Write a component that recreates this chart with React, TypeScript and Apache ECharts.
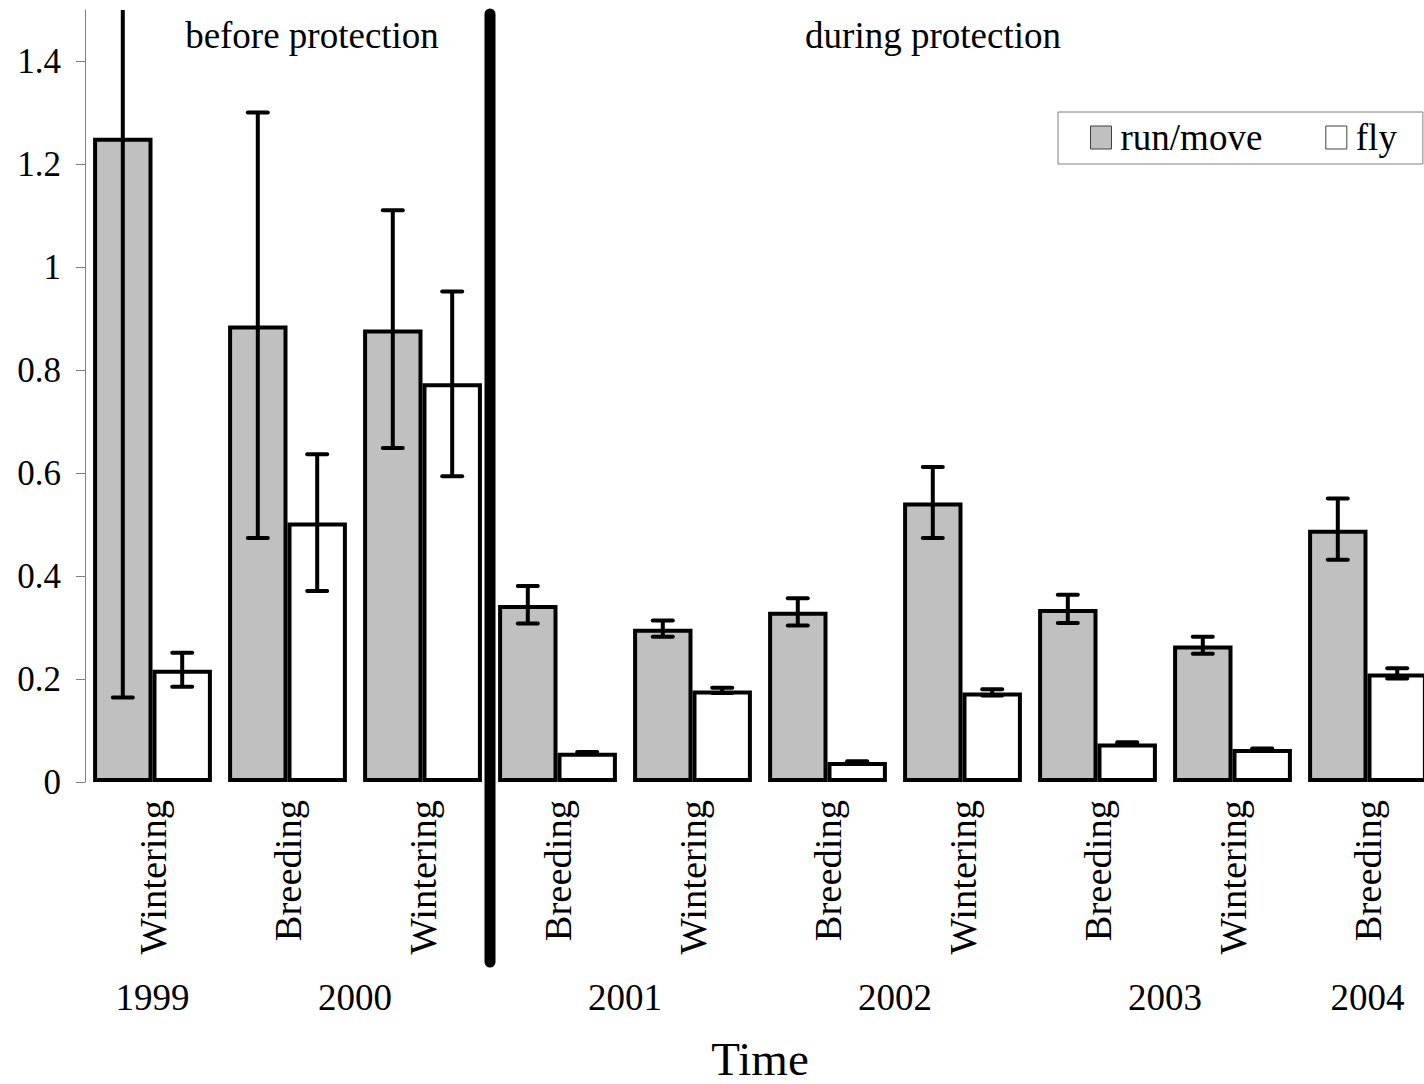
import React, { useEffect, useRef } from 'react';
import * as echarts from 'echarts';

const seasons = ['Wintering', 'Breeding', 'Wintering', 'Breeding', 'Wintering', 'Breeding', 'Wintering', 'Breeding', 'Wintering', 'Breeding'];
const years = ['1999', '2000', '2000', '2001', '2001', '2002', '2002', '2003', '2003', '2004'];

const runMove = [1.252, 0.887, 0.879, 0.344, 0.298, 0.331, 0.543, 0.336, 0.265, 0.49];
const runLow = [0.164, 0.474, 0.649, 0.308, 0.282, 0.304, 0.474, 0.309, 0.249, 0.432];
const runHigh = [2.34, 1.301, 1.111, 0.381, 0.314, 0.357, 0.612, 0.364, 0.282, 0.551];

const fly = [0.218, 0.504, 0.775, 0.057, 0.178, 0.039, 0.174, 0.075, 0.064, 0.211];
const flyLow = [0.185, 0.371, 0.594, 0.0555, 0.173, 0.0375, 0.168, 0.073, 0.063, 0.201];
const flyHigh = [0.251, 0.637, 0.953, 0.0585, 0.183, 0.0405, 0.18, 0.077, 0.065, 0.221];

const yTicks = [0, 0.2, 0.4, 0.6, 0.8, 1, 1.2, 1.4];
const Y_MAX = 1.5;
const periods = ['before protection', 'during protection'];
const axisTitle = 'Time';
const seriesNames = ['run/move', 'fly'];

const FONT = '"Liberation Serif", "Times New Roman", serif';
const GAP = 0.12;

function makeErr(name: string, lows: number[], highs: number[], sign: number) {
  return {
    type: 'custom',
    name,
    z: 5,
    clip: false,
    data: lows.map((l, i) => [i, l, highs[i]]),
    renderItem: (params: any, api: any) => {
      const i = api.value(0);
      const lo = api.coord([i, api.value(1)]);
      const hiV = api.value(2);
      const clipped = hiV > Y_MAX;
      const hi = api.coord([i, Math.min(hiV, Y_MAX)]);
      const band = api.size([1, 0])[0];
      const bw = (band * (1 - GAP)) / 2;
      const x = lo[0] + (sign * bw) / 2;
      const cap = 10;
      const children: any[] = [
        {
          type: 'line',
          shape: { x1: x, y1: hi[1], x2: x, y2: lo[1] },
          style: { stroke: '#000', lineWidth: 4, lineCap: 'butt' },
        },
        {
          type: 'line',
          shape: { x1: x - cap, y1: lo[1], x2: x + cap, y2: lo[1] },
          style: { stroke: '#000', lineWidth: 4, lineCap: 'round' },
        },
      ];
      if (!clipped) {
        children.push({
          type: 'line',
          shape: { x1: x - cap, y1: hi[1], x2: x + cap, y2: hi[1] },
          style: { stroke: '#000', lineWidth: 4, lineCap: 'round' },
        });
      }
      return { type: 'group', children };
    },
  };
}

export default function App() {
  const ref = useRef<HTMLDivElement>(null);

  useEffect(() => {
    if (!ref.current) return;
    const chart = echarts.init(ref.current, null, { renderer: 'svg' });
    const option: any = {
      animation: false,
      backgroundColor: '#fff',
      textStyle: { fontFamily: FONT },
      grid: { left: 85, right: 5, top: 10, bottom: 302, containLabel: false },
      legend: {
        data: seriesNames,
        left: 1058,
        top: 112,
        orient: 'horizontal',
        icon: 'rect',
        itemWidth: 21,
        itemHeight: 23,
        itemGap: 63,
        padding: [7, 26, 8, 32],
        borderColor: '#808080',
        borderWidth: 1,
        itemStyle: { borderWidth: 1, borderColor: '#404040' },
        textStyle: { fontSize: 37, fontFamily: FONT, color: '#000', padding: [0, 0, 0, 4] },
      },
      xAxis: {
        type: 'category',
        data: seasons,
        axisLine: { show: false },
        axisTick: { show: false },
        axisLabel: {
          interval: 0,
          rotate: 90,
          margin: 18,
          fontSize: 38.5,
          fontFamily: FONT,
          color: '#000',
        },
      },
      yAxis: {
        type: 'value',
        min: 0,
        max: Y_MAX,
        splitLine: { show: false },
        axisLine: { show: true, lineStyle: { color: '#808080', width: 1 } },
        axisTick: { show: true, length: 9, lineStyle: { color: '#808080', width: 1 }, customValues: yTicks },
        axisLabel: {
          customValues: yTicks,
          margin: 24,
          fontSize: 35,
          fontFamily: FONT,
          color: '#000',
          padding: [0, 0, 6, 0],
        },
      },
      series: [
        {
          type: 'bar',
          name: seriesNames[0],
          data: runMove,
          barGap: '0%',
          barCategoryGap: '12%',
          itemStyle: { color: '#c0c0c0', borderColor: '#000', borderWidth: 4 },
        },
        {
          type: 'bar',
          name: seriesNames[1],
          data: fly,
          barGap: '0%',
          barCategoryGap: '12%',
          itemStyle: { color: '#ffffff', borderColor: '#000', borderWidth: 4 },
        },
        makeErr('run/move error', runLow, runHigh, -1),
        makeErr('fly error', flyLow, flyHigh, 1),
      ],
    };
    chart.setOption(option);

    const xOf = (i: number) => chart.convertToPixel({ xAxisIndex: 0 }, i) as number;
    const yOf = (v: number) => chart.convertToPixel({ yAxisIndex: 0 }, v) as number;

    const groups: { year: string; idx: number[] }[] = [];
    years.forEach((y, i) => {
      const last = groups[groups.length - 1];
      if (last && last.year === y) last.idx.push(i);
      else groups.push({ year: y, idx: [i] });
    });

    const textStyle = (text: string, x: number, y: number, size: number) => ({
      type: 'text',
      x,
      y,
      z: 50,
      style: {
        text,
        fontSize: size,
        fontFamily: FONT,
        fill: '#000',
        align: 'center',
        verticalAlign: 'middle',
      },
    });

    const sepX = (xOf(2) + xOf(3)) / 2;
    const top = yOf(Y_MAX);
    const graphic: any[] = [
      {
        type: 'line',
        z: 100,
        shape: { x1: sepX, y1: top + 4, x2: sepX, y2: 962 },
        style: { stroke: '#000', lineWidth: 11, lineCap: 'round' },
      },
      textStyle(periods[0], 312, 35, 37),
      textStyle(periods[1], 933, 35, 37),
      textStyle(axisTitle, (xOf(0) + xOf(seasons.length - 1)) / 2, 1059, 47),
    ];
    groups.forEach((g) => {
      const cx = g.idx.reduce((s, i) => s + xOf(i), 0) / g.idx.length;
      graphic.push(textStyle(g.year, cx, 997, 37));
    });
    chart.setOption({ graphic });

    return () => chart.dispose();
  }, []);

  return (
    <div
      style={{
        position: 'absolute',
        left: 0,
        top: 0,
        width: 1424,
        height: 1084,
        overflow: 'hidden',
        background: '#fff',
      }}
    >
      <div ref={ref} style={{ width: 1440, height: 1084 }} />
    </div>
  );
}
